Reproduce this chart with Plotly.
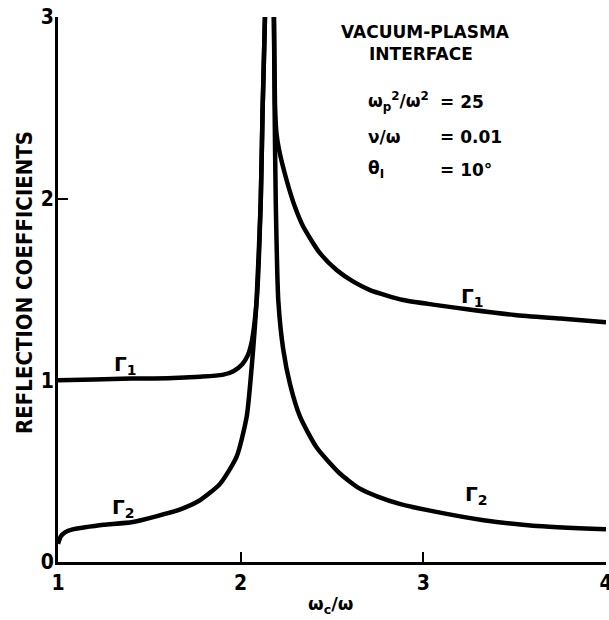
import plotly.graph_objects as go

# Data
gamma1_x = [1.0, 1.2, 1.4, 1.6, 1.78, 1.9, 1.96, 2.01, 2.04, 2.06, 2.075, 2.09, 2.11, 2.12, 2.133,
            2.157, 2.182, 2.188, 2.196, 2.21, 2.252, 2.297, 2.343, 2.434, 2.525, 2.617, 2.708,
            2.89, 3.073, 3.25, 3.5, 3.75, 4.0]
gamma1_y = [1.0, 1.005, 1.01, 1.012, 1.02, 1.03, 1.05, 1.09, 1.14, 1.21, 1.31, 1.47, 1.99, 2.49, 3.0,
            4.5, 3.0, 2.52, 2.36, 2.27, 2.10, 1.955, 1.845, 1.70, 1.607, 1.543, 1.497,
            1.442, 1.414, 1.39, 1.36, 1.34, 1.32]

gamma2_x = [1.0, 1.015, 1.04, 1.08, 1.14, 1.25, 1.41, 1.67, 1.777, 1.887, 1.978, 2.033, 2.06, 2.087,
            2.11, 2.12, 2.133, 2.157, 2.182, 2.186, 2.192, 2.206, 2.233, 2.27, 2.325, 2.416,
            2.54, 2.65, 2.75, 2.87, 3.05, 3.33, 3.6, 4.0]
gamma2_y = [0.10, 0.14, 0.165, 0.18, 0.19, 0.205, 0.22, 0.29, 0.34, 0.43, 0.58, 0.80, 1.07, 1.44,
            1.99, 2.49, 3.0, 4.5, 3.0, 2.49, 1.99, 1.44, 1.17, 0.98, 0.80, 0.63,
            0.49, 0.405, 0.36, 0.32, 0.28, 0.23, 0.20, 0.18]

x_ticks = [1, 2, 3, 4]
y_ticks = [0, 1, 2, 3]

NARROW = "Liberation Sans Narrow, DejaVu Sans Condensed, Arial Narrow, sans-serif"
BOLD = "DejaVu Sans, Liberation Sans, sans-serif"

fig = go.Figure()
for xs, ys, name in [(gamma1_x, gamma1_y, "Γ1"), (gamma2_x, gamma2_y, "Γ2")]:
    fig.add_trace(go.Scatter(x=xs, y=ys, mode="lines", name=name,
                             line=dict(color="black", width=4.5, shape="spline", smoothing=0.6),
                             showlegend=False, hoverinfo="skip"))

axis_common = dict(showgrid=False, zeroline=False, showline=True, linecolor="black",
                   linewidth=3, ticks="inside", ticklen=10, tickwidth=2, tickcolor="black",
                   automargin=False,
                   tickfont=dict(family=NARROW, size=21, color="black", weight="bold"))

fig.update_layout(
    width=609, height=620,
    margin=dict(l=58, r=3, t=17, b=58),
    paper_bgcolor="white", plot_bgcolor="white",
    xaxis=dict(range=[1, 4], tickvals=x_ticks, ticktext=[str(v) for v in x_ticks],
               ticklabeloverflow="allow", **axis_common),
    yaxis=dict(range=[0, 3], tickvals=y_ticks, ticktext=[str(v) for v in y_ticks],
               ticklabelstandoff=-3, ticklabeloverflow="allow", **axis_common),
)

def px(xp):
    return (xp - 58) / 548.0

def py(yp):
    return (562 - yp) / 545.0

ann = []
# axis titles
ann.append(dict(text="ω<sub>c</sub>/ω", xref="paper", yref="paper", x=px(330), y=py(605),
                xanchor="center", yanchor="middle", showarrow=False,
                font=dict(family=BOLD, size=18, color="black", weight="bold")))
ann.append(dict(text="REFLECTION COEFFICIENTS", xref="paper", yref="paper", x=px(24), y=py(283),
                xanchor="center", yanchor="middle", textangle=-90, showarrow=False,
                font=dict(family=NARROW, size=22, color="black", weight="bold")))
# curve labels
for txt, x, y in [("Γ<sub>1</sub>", 1.367, 1.084), ("Γ<sub>2</sub>", 1.36, 0.30),
                  ("Γ<sub>1</sub>", 3.27, 1.46), ("Γ<sub>2</sub>", 3.29, 0.37)]:
    ann.append(dict(text=txt, x=x, y=y, xref="x", yref="y", showarrow=False,
                    xanchor="center", yanchor="middle",
                    font=dict(family=BOLD, size=20, color="black", weight="bold")))

# parameter block
ann.append(dict(text="VACUUM-PLASMA", x=px(425), y=py(32), xref="paper", yref="paper",
                xanchor="center", yanchor="middle", showarrow=False,
                font=dict(family=BOLD, size=17, color="black", weight="bold")))
ann.append(dict(text="INTERFACE", x=px(421), y=py(54), xref="paper", yref="paper",
                xanchor="center", yanchor="middle", showarrow=False,
                font=dict(family=BOLD, size=17, color="black", weight="bold")))
params = [("ω<sub>p</sub><sup>2</sup>/ω<sup>2</sup>", "= 25", 102),
          ("ν/ω", "= 0.01", 137),
          ("θ<sub>I</sub>", "= 10°", 170)]
for lab, val, yp in params:
    ann.append(dict(text=lab, x=px(366), y=py(yp), xref="paper", yref="paper", xanchor="left",
                    yanchor="middle", showarrow=False,
                    font=dict(family=BOLD, size=17, color="black", weight="bold")))
    ann.append(dict(text=val, x=px(438), y=py(yp), xref="paper", yref="paper", xanchor="left",
                    yanchor="middle", showarrow=False,
                    font=dict(family=BOLD, size=17, color="black", weight="bold")))

fig.update_layout(annotations=ann)
fig.write_html("out.html")
